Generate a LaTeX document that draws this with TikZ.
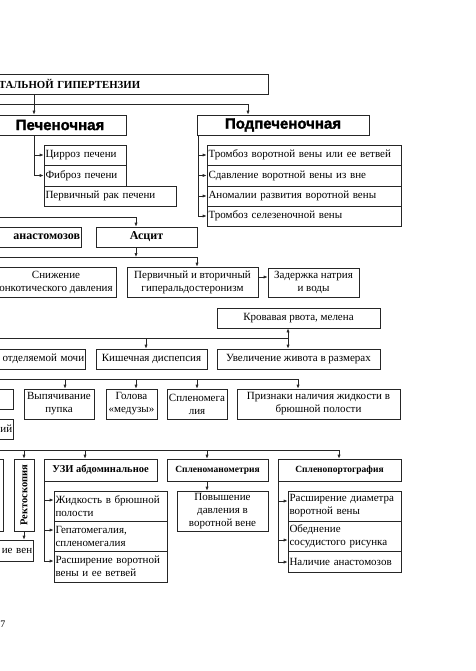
\documentclass[tikz,border=0pt]{standalone}
\usepackage{fontspec}
\setmainfont{Liberation Serif}
\newfontfamily\headsans[FakeBold=1.6]{Liberation Sans Bold}
\usetikzlibrary{arrows.meta,calc}
\newcommand{\boxfont}{\fontsize{11}{13}\selectfont}
\newcommand{\capsfont}{\bfseries\fontsize{10.8}{12}\selectfont}
\newcommand{\hepfont}{\headsans\fontsize{15}{17}\selectfont}
\newcommand{\ascfont}{\bfseries\fontsize{12}{14}\selectfont}
\newcommand{\methfont}{\bfseries\fontsize{10.5}{12}\selectfont}
\newcommand{\methsmall}{\bfseries\fontsize{9.5}{11}\selectfont}
\newcommand{\pagefont}{\fontsize{10}{12}\selectfont}
\tikzset{box/.style={draw=black!85,line width=0.7pt,inner xsep=1.5pt,inner ysep=1pt,align=center,font=\boxfont}}
\tikzset{lbox/.style={box,align=left,text width=#1}}
\tikzset{rbox/.style={box,align=right,text width=#1,anchor=east}}
\tikzset{conn/.style={draw=black!85,line width=0.7pt}}
\tikzset{arr/.style={conn,-{Latex[length=4pt,width=3.2pt]}}}
\tikzset{dbl/.style={conn,{Latex[length=4pt,width=3.2pt]}-{Latex[length=4pt,width=3.2pt]}}}

\begin{document}
\begin{tikzpicture}[x=1pt,y=-1pt]
  \useasboundingbox (0,0) rectangle (475,671);
  \clip (0,0) rectangle (475,671);

  % forms
  \node[box, anchor=west, align=left, text width=268pt, minimum height=20pt, font=\capsfont] (root) at (-3,84) {ТАЛЬНОЙ ГИПЕРТЕНЗИИ};
  \node[box, minimum width=132pt, minimum height=20pt, font=\hepfont] (hep) at (60,125) {Печеночная};
  \node[box, minimum width=172pt, minimum height=20pt, font=\hepfont] (subhep) at (283,125) {Подпеченочная};

  \node[lbox=79pt, minimum height=20pt] (cirr) at (85,155) {Цирроз печени};
  \node[lbox=79pt, minimum height=21pt] (fibr) at (85,175.5) {Фиброз печени};
  \node[lbox=129pt, minimum height=20pt] (canc) at (110,196) {Первичный рак печени};

  \node[lbox=191pt, minimum height=20pt] (thr1) at (304,155) {Тромбоз воротной вены или ее ветвей};
  \node[lbox=191pt, minimum height=21pt] (compr) at (304,175.5) {Сдавление воротной вены из вне};
  \node[lbox=191pt, minimum height=20pt] (anom) at (304,196) {Аномалии развития воротной вены};
  \node[lbox=191pt, minimum height=20pt] (thr2) at (304,216) {Тромбоз селезеночной вены};

  % symptoms
  \node[rbox=150pt, minimum height=20pt, font=\ascfont] (anast) at (82,237) {анастомозов};
  \node[box, minimum width=101pt, minimum height=20pt, font=\ascfont] (ascit) at (146.5,237) {Асцит};

  \node[box, minimum width=120pt, minimum height=30pt] (onc) at (56,282) {Снижение\\онкотического давления};
  \node[box, minimum width=131pt, minimum height=30pt] (aldo) at (192.5,282) {Первичный и вторичный\\гиперальдостеронизм};
  \node[box, minimum width=91pt, minimum height=29pt] (natr) at (313.5,282.5) {Задержка натрия\\и воды};
  \node[box, minimum width=163pt, minimum height=20pt] (blood) at (298.5,318) {Кровавая рвота, мелена};

  \node[rbox=150pt, minimum height=20pt] (urine) at (86,359) {отделяемой мочи};
  \node[box, minimum width=111pt, minimum height=20pt] (dysp) at (151.5,359) {Кишечная диспепсия};
  \node[box, minimum width=163pt, minimum height=20pt] (belly) at (298.5,359) {Увеличение живота в размерах};

  \node[rbox=60pt, minimum height=20pt] (sgn1) at (14,399) {};
  \node[rbox=60pt, minimum height=20pt] (sgn2) at (14,429) {ий};
  \node[box, minimum width=70pt, minimum height=30pt] (navel) at (59,404) {Выпячивание\\пупка};
  \node[box, minimum width=51pt, minimum height=30pt] (medusa) at (131.5,404) {Голова\\«медузы»};
  \node[box, minimum width=60pt, minimum height=30pt] (spleno) at (197,404) {Спленомега\\лия};
  \node[box, minimum width=163pt, minimum height=30pt] (fluid) at (318.5,404) {Признаки наличия жидкости в\\брюшной полости};

  % diagnostics
  \node[rbox=60pt, minimum height=72pt] (exam) at (4,495) {};
  \node[box, minimum width=20pt, minimum height=72pt] (rect) at (24,495) {};
  \node[rotate=90, font=\methfont] (recttxt) at (rect) {Ректоскопия};
  \node[rbox=60pt, minimum height=21pt] (veins) at (34,550.5) {ие вен};

  \node[box, minimum width=113pt, minimum height=22pt, font=\methfont] (uzi) at (100.5,470) {УЗИ абдоминальное};
  \node[lbox=110pt, minimum height=30pt] (uzi1) at (110.5,506) {Жидкость в брюшной\\полости};
  \node[lbox=110pt, minimum height=30pt] (uzi2) at (110.5,536) {Гепатомегалия,\\спленомегалия};
  \node[lbox=110pt, minimum height=31pt] (uzi3) at (110.5,566.5) {Расширение воротной\\вены и ее ветвей};

  \node[box, minimum width=101pt, minimum height=22pt, font=\methsmall] (mano) at (217.5,470) {Спленоманометрия};
  \node[box, minimum width=91pt, minimum height=40pt] (mano1) at (222.5,511) {Повышение\\давления в\\воротной вене};

  \node[box, minimum width=123pt, minimum height=22pt, font=\methsmall] (porto) at (339.5,470) {Спленопортография};
  \node[lbox=110pt, minimum height=30pt] (porto1) at (344.5,506) {Расширение диаметра\\воротной вены};
  \node[lbox=110pt, minimum height=30pt] (porto2) at (344.5,536) {Обеднение\\сосудистого рисунка};
  \node[lbox=110pt, minimum height=21pt] (porto3) at (344.5,561.5) {Наличие анастомозов};

  \node[font=\pagefont] (pg) at (3,624) {7};

  % connectors
  \draw[arr] (root.south -| 34,0) -- (hep.north -| 34,0);
  \draw[arr] (0,104) -| (subhep.north -| 248,0);
  \draw[arr] (hep.south -| 34,0) |- (fibr.west);
  \draw[arr] (cirr.west -| 34,0) -- (cirr.west);
  \draw[arr] (subhep.south -| 198,0) |- (thr2.west);
  \foreach \n in {thr1,compr,anom}
    \draw[arr] (\n.west -| 198,0) -- (\n.west);

  \draw[arr] (0,217) -| (ascit.north -| 136,0);
  \draw[arr] (ascit.south -| 136,0) -- (136,257);
  \draw[arr] (0,257) -| (aldo.north -| 197,0);
  \draw[arr] (aldo.east |- 0,277) -- (natr.west |- 0,277);
  \draw[dbl] (blood.south -| 288,0) -- (belly.north -| 288,0);
  \draw[conn] (0,338) -- (288,338);
  \draw[arr] (146,338) -- (dysp.north -| 146,0);

  \draw[conn] (0,379) -- (298,379);
  \foreach \x/\n in {65/navel,136/medusa,197/spleno,298/fluid}
    \draw[arr] (\x,379) -- (\n.north -| \x,0);

  \draw[conn] (0,450) -- (339,450);
  \foreach \x/\n in {24/rect,85/uzi,207/mano,339/porto}
    \draw[arr] (\x,450) -- (\n.north -| \x,0);
  \draw[arr] (rect.south) -- (veins.north -| rect.south);
  \draw[arr] (mano.south -| 207,0) -- (mano1.north -| 207,0);

  \draw[arr] (uzi.south -| 44,0) |- (uzi3.west |- 0,561);
  \draw[arr] (44,500) -- (uzi1.west |- 0,500);
  \draw[arr] (44,530) -- (uzi2.west |- 0,530);
  \draw[arr] (porto.south -| 278,0) |- (porto3.west |- 0,562);
  \draw[arr] (278,501) -- (porto1.west |- 0,501);
  \draw[arr] (278,540) -- (porto2.west |- 0,540);
\end{tikzpicture}
\end{document}
